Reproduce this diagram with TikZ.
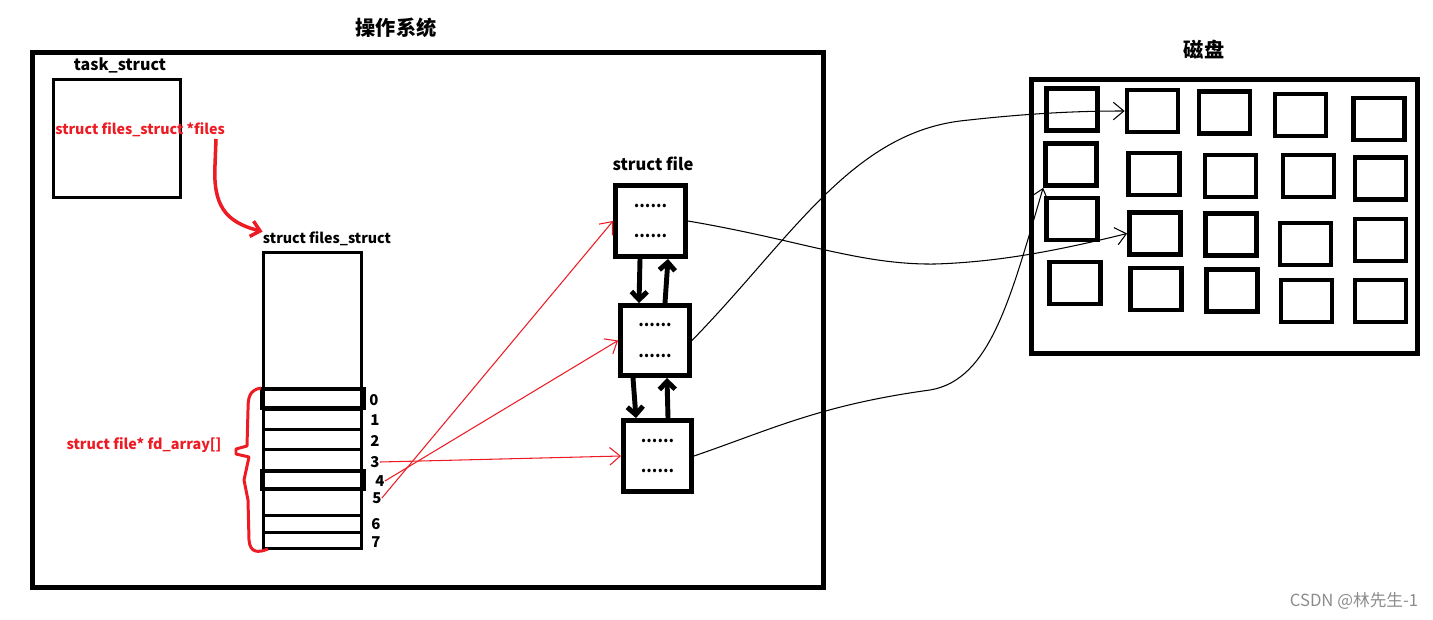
\documentclass[tikz,border=0pt]{standalone}
\usepackage{fontspec}
\setmainfont{Noto Sans CJK SC}
\usetikzlibrary{arrows.meta}
\definecolor{paintred}{HTML}{ED1C24}

\begin{document}
\begin{tikzpicture}[
    x=0.02cm, y=-0.02cm,
    lbl/.style={font=\fontsize{#1}{11}\selectfont\bfseries, inner sep=0pt},
    lbl/.default=9,
    title/.style={font=\fontsize{11.5}{13}\selectfont\bfseries, inner sep=0pt},
    redlbl/.style={lbl=#1, text=paintred},
    idx/.style={font=\fontsize{8.5}{10}\selectfont\bfseries, inner sep=0pt},
    frame/.style={draw, line width=2.6pt, inner sep=0pt},
    box/.style={draw, line width=1.7pt, inner sep=0pt},
    fbox/.style={draw, line width=2.8pt, inner sep=0pt, align=center, font=\fontsize{9}{17.6}\selectfont\bfseries},
    dbox/.style={draw, line width=2.7pt, minimum width=1.02cm, minimum height=0.84cm, inner sep=0pt},
    link/.style={-{Straight Barb[length=6pt,width=10pt]}, line width=0.6pt},
    redlink/.style={link, draw=paintred},
    dlink/.style={-{Straight Barb[length=4.5pt,width=9pt]}, line width=2.8pt},
    brace/.style={draw=paintred, line width=1.7pt, line join=round}
]
\useasboundingbox (0,0) rectangle (1433,619);

% Operating system
\node[frame, minimum width=15.83cm, minimum height=10.71cm] (os) at (428,320) {};
\node[title] (ostitle) at (396,28) {操作系统};

% task_struct
\node[box, minimum width=2.54cm, minimum height=2.36cm] (ts) at (117,138.5) {};
\node[lbl=9.1] (tslbl) at (120,65) {task\_struct};
\node[redlbl=8.1, anchor=west] (ptr) at (55,130) {struct files\_struct *files};
\coordinate (p0) at (216,139);

% files_struct with the fd array
\node[lbl=8.1] (fslbl) at (327,239) {struct files\_struct};
\node[box, minimum width=1.96cm, minimum height=5.92cm] (fs) at (312.5,400.5) {};
\foreach \y in {409,429,449,515,532}
    \draw[line width=1.7pt] (263,\y) -- (362,\y);
\draw[line width=1.9pt] (262,389) rectangle (364,408);
\draw[line width=1.9pt] (262,471) rectangle (364,489);
\foreach \i/\x/\y in {0/374/400, 1/375/420, 2/375/441, 3/375/462, 4/380/481, 5/377/498, 6/376/524, 7/376/542}
    \node[idx] (i\i) at (\x,\y) {\i};
\node[redlbl=8.2] (fdlbl) at (144,445) {struct file* fd\_array[]};
\draw[brace] (261,388) .. controls (249,390) and (248,398) .. (248,410) -- (247,446)
    -- (236,449) -- (236,454) -- (249,457) -- (244,480) -- (248,500) -- (249,540)
    .. controls (250,553) and (258,553) .. (268,549);

% struct file
\node[lbl=9.4] (sflbl) at (653,164) {struct file};
\node[fbox, minimum width=1.4cm, minimum height=1.42cm] (f1) at (650.5,221) {......\\......};
\node[fbox, minimum width=1.38cm, minimum height=1.4cm] (f2) at (655,340.5) {......\\......};
\node[fbox, minimum width=1.36cm, minimum height=1.42cm] (f3) at (657.5,456) {......\\......};

\draw[dlink] ([xshift=-0.21cm]f1.south) -- ([xshift=-0.32cm]f2.north);
\draw[dlink] ([xshift=0.2cm]f2.north) -- ([xshift=0.35cm]f1.south);
\draw[dlink] ([xshift=-0.44cm]f2.south) -- ([xshift=-0.43cm]f3.north);
\draw[dlink] ([xshift=0.21cm]f3.north) -- ([xshift=0.24cm]f2.south);

% fd -> struct file
\draw[paintred, line width=2pt, -{Straight Barb[length=5pt,width=9pt]}] (p0) -- (215,165)
    .. controls (213,205) and (225,222) .. (fslbl.north west);
\draw[redlink] (i3.east) -- (f3.west);
\draw[redlink] (i4.east) -- (f2.west);
\draw[redlink] (i5.east) -- (f1.west);

% Disk
\node[title] (disklbl) at (1204,50) {磁盘};
\node[frame, line width=2.8pt, minimum width=7.72cm, minimum height=5.48cm] (disk) at (1224.5,216.5) {};
\foreach \n/\x/\y in {a1/1072/109.5, a2/1071/164.5, a3/1072/219, a4/1075/283,
    b1/1152.5/111, b2/1154/174, b3/1155/233.5, b4/1156/289,
    c1/1224.5/112.5, c2/1230.5/176, c3/1231/234.5, c4/1232/290.5,
    d1/1300.5/115, d2/1308.5/176, d3/1305.5/244, d4/1306.5/301,
    e1/1379/119, e2/1380.5/178.5, e3/1380.5/240, e4/1380.5/301}
    \node[dbox] (\n) at (\x,\y) {};

% struct file -> disk
\draw[link] (f1.east) .. controls (800,240) and (860,265) .. (935,264)
    .. controls (1000,262) and (1060,250) .. (b3.west);
\draw[link] (f2.east) .. controls (790,240) and (850,135) .. (960,121)
    .. controls (1030,113) and (1080,111) .. (b1.west);
\draw[link] (f3.east) .. controls (770,430) and (820,405) .. (930,390)
    .. controls (990,380) and (1010,300) .. (a2.south west);

\node[font=\fontsize{9.5}{11}\selectfont, text=black!45, inner sep=0pt] (wm) at (1354,601) {CSDN @林先生-1};
\end{tikzpicture}
\end{document}
